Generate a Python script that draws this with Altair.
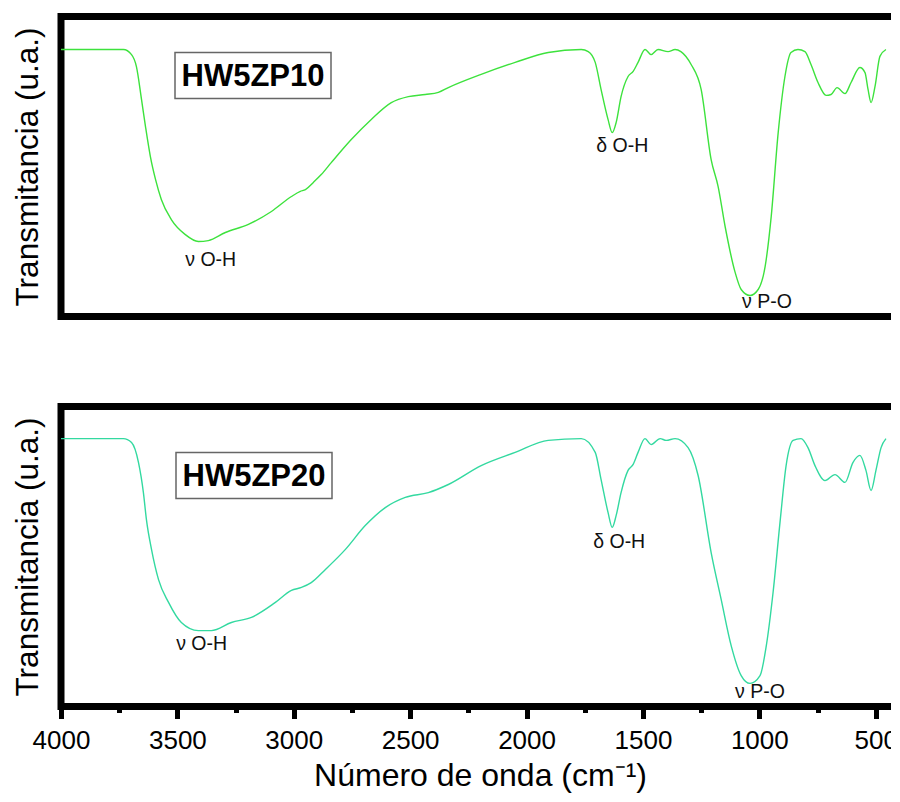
import altair as alt
import pandas as pd

# Top spectrum (HW5ZP10): wavenumber (cm-1) and transmittance (arbitrary units)
wn_top = [4000, 3732, 3697, 3676, 3654, 3637, 3616, 3594, 3569, 3526, 3466, 3410, 3367, 3294,
          3195, 3096, 3010, 2972, 2950, 2916, 2882, 2839, 2753, 2667, 2581, 2508, 2435, 2379,
          2336, 2195, 2049, 1907, 1765, 1735, 1705, 1680, 1650, 1632, 1615, 1594, 1564, 1542,
          1521, 1491, 1465, 1435, 1392, 1362, 1337, 1293, 1250, 1207, 1177, 1147, 1104, 1078,
          1040, 1005, 975, 949, 919, 890, 864, 834, 804, 778, 748, 713, 692, 666, 632, 606,
          568, 546, 533, 520, 503, 482, 456]
t_top = [89, 89, 87.3, 83.3, 72.3, 63.3, 53.3, 45.7, 39, 32.3, 27.3, 25, 25.3, 28,
         30.7, 35, 40, 41.7, 42.3, 44.7, 47.3, 51.3, 59, 65.7, 71.3, 73.3, 74, 74.7,
         76.3, 80.7, 84.7, 88, 89, 88.3, 84.7, 75.7, 65.7, 61.3, 64.7, 73.3, 80, 81.7,
         84.7, 89, 87.3, 89, 88.3, 89, 88.3, 84, 75.7, 52.3, 43.3, 30, 14.7, 9,
         7, 9, 16.7, 33.3, 61.3, 80, 88, 89, 88.3, 84, 78, 73.7, 74, 76.3, 74.3, 78,
         83, 81.3, 75.7, 71.3, 76.7, 86.7, 89]

# Bottom spectrum (HW5ZP20)
wn_bot = [4000, 3732, 3697, 3667, 3646, 3633, 3611, 3581, 3538, 3483, 3410, 3354, 3268, 3182,
          3079, 3010, 2967, 2925, 2864, 2779, 2693, 2607, 2521, 2422, 2336, 2195, 2049, 1907,
          1765, 1705, 1680, 1650, 1632, 1615, 1594, 1564, 1542, 1521, 1491, 1465, 1426, 1400,
          1362, 1306, 1263, 1207, 1164, 1121, 1078, 1040, 997, 970, 941, 910, 885, 855,
          821, 791, 761, 718, 675, 632, 598, 568, 542, 520, 499, 477, 456]
t_bot = [89.3, 89.3, 88, 81.3, 71.3, 62.3, 52.3, 42.3, 34.7, 28, 25.3, 25.3, 28, 29.7,
         34.7, 38.7, 39.7, 41.3, 45.7, 52.3, 60.3, 66.3, 69.7, 71.3, 74, 80.3, 84.7, 88.7,
         89.3, 84.7, 75.7, 64.7, 59.7, 63.7, 71.3, 78.7, 80.7, 84.7, 89.3, 87.3, 89.3, 88.7,
         89.3, 86.3, 77, 51.3, 35.7, 20.3, 10.3, 7.7, 10.3, 20.3, 38, 62.3, 80.3, 88.7,
         89.3, 86.3, 80.3, 75.3, 77.3, 74.7, 81.3, 83.7, 78.7, 72, 78.7, 86.3, 89.3]

# Band annotations
ann_labels = ["ν O-H", "δ O-H", "ν P-O"]
ann_wn_top = [3357, 1589, 967]
ann_t_top = [19, 56.7, 5]
ann_wn_bot = [3396, 1602, 997]
ann_t_bot = [20.7, 54.7, 4.7]

sample_names = ["HW5ZP10", "HW5ZP20"]
line_colors = ["#3de23d", "#33d9a0"]

x_ticks = list(range(4000, 499, -250))

FONT = "Liberation Sans"
W, H = 838, 300
X_DOMAIN = [4000, 400]


def panel(wn, t, ann_wn, ann_t, name, color, bottom):
    df = pd.DataFrame({"wn": wn, "t": t, "i": range(len(wn))})
    if bottom:
        xaxis = alt.Axis(
            values=x_ticks, format="d", labelFlush=False, labelOverlap=False,
            labelExpr="datum.value % 500 == 0 ? datum.label : ''",
            tickSize={"condition": {"test": "datum.value % 500 == 0", "value": 12}, "value": 6},
            tickWidth=5, tickColor="black", domain=False, grid=False,
            labelFont=FONT, labelFontSize=26, labelColor="black", labelPadding=9,
            title="Número de onda (cm⁻¹)", titleFont=FONT, titleFontSize=32,
            titleFontWeight="normal", titleColor="black", titlePadding=7,
        )
    else:
        xaxis = None
    yaxis = alt.Axis(
        title="Transmitancia (u.a.)", labels=False, ticks=False, domain=False, grid=False,
        titleFont=FONT, titleFontSize=31.5, titleFontWeight="normal", titleColor="black",
        titlePadding=17,
    )
    xs = alt.Scale(domain=X_DOMAIN, nice=False, zero=False)
    ys = alt.Scale(domain=[0, 100], nice=False, zero=False)

    line = alt.Chart(df).mark_line(color=color, strokeWidth=1.4, interpolate="monotone").encode(
        x=alt.X("wn:Q", scale=xs, axis=xaxis),
        y=alt.Y("t:Q", scale=ys, axis=yaxis),
        order="i:Q",
    )
    adf = pd.DataFrame({"wn": ann_wn, "t": ann_t, "label": ann_labels})
    ann = alt.Chart(adf).mark_text(font=FONT, fontSize=19.5, color="#111", baseline="middle").encode(
        x=alt.X("wn:Q", scale=xs),
        y=alt.Y("t:Q", scale=ys),
        text="label:N",
    )
    ndf = pd.DataFrame({"name": [name]})
    bx = 114 if not bottom else 115
    by = 36 if not bottom else 46
    box = alt.Chart(ndf).mark_rect(fill="white", stroke="#666", strokeWidth=1.5).encode(
        x=alt.value(bx), x2=alt.value(bx + 156), y=alt.value(by), y2=alt.value(by + 46),
    )
    lab = alt.Chart(ndf).mark_text(font=FONT, fontSize=31, fontWeight="bold", color="black",
                                   baseline="middle", align="center").encode(
        x=alt.value(bx + 78), y=alt.value(by + 24), text="name:N",
    )
    return alt.layer(line, ann, box, lab).properties(width=W, height=H)


top = panel(wn_top, t_top, ann_wn_top, ann_t_top, sample_names[0], line_colors[0], False)
bot = panel(wn_bot, t_bot, ann_wn_bot, ann_t_bot, sample_names[1], line_colors[1], True)

chart = alt.vconcat(top, bot, spacing=82).properties(
    padding={"left": 0, "top": 4.5, "right": -12, "bottom": -1},
    background="white",
).configure_view(stroke="black", strokeWidth=7)

chart.save("out.html", embed_options={"renderer": "svg", "actions": False})
